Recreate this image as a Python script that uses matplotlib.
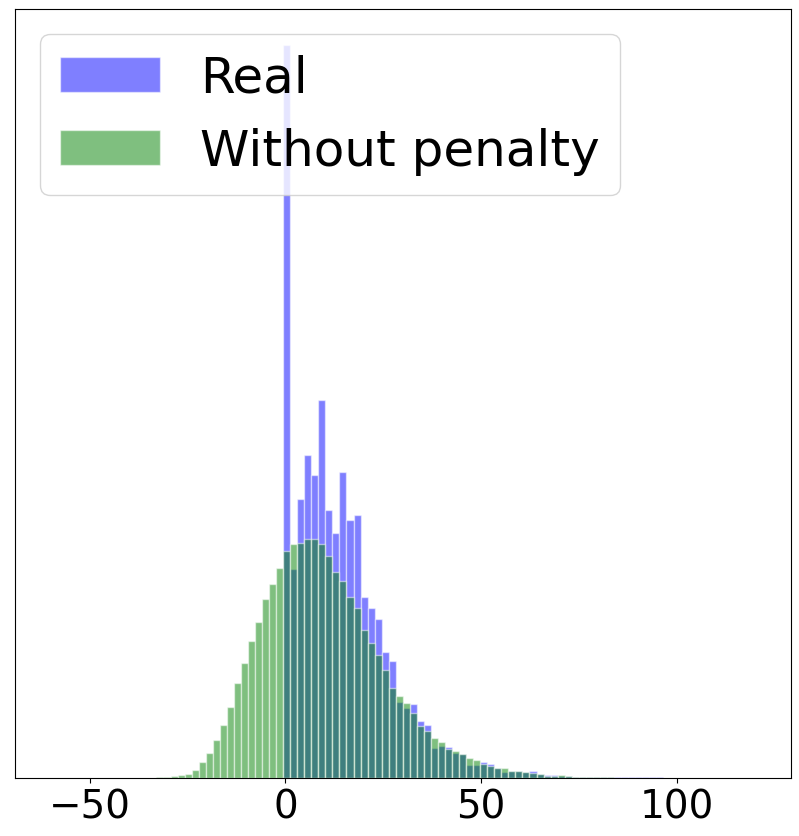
import numpy as np
import matplotlib
matplotlib.use('Agg')
import matplotlib.pyplot as plt

# common bin edges for both histograms (100 bins from -60 to 120)
bin_edges = np.linspace(-60, 120, 101)
bin_centers = (bin_edges[:-1] + bin_edges[1:]) / 2

# counts per bin (arbitrary units)
real_counts = [0] * 33 + [
    732, 209, 279, 323, 303, 378, 268, 245, 306, 258,
    263, 181, 170, 159, 126, 117, 76, 70, 74, 57,
    53, 30, 32, 31, 25, 23.5, 12.7, 12.7, 15.7, 13.7,
    10.3, 5.7, 7.3, 7.0, 6.3, 6.7, 3.7, 3.0, 2.7, 2.3,
    2.0, 1.3, 1.0, 1.0, 0.8, 1.0, 0.6, 0.6, 1.0, 0.5,
    0.5, 0.7, 0.7, 0.7, 0.4, 0.3, 0.3,
] + [0] * 10

nopen_counts = [0] * 15 + [
    0.5, 1.0, 1.7, 2.7, 4.3, 8.3, 16.3, 25.3, 38.3, 53.3,
    71.3, 95.3, 115.3, 137.3, 156.3, 179.3, 194.3, 210.3, 226.7, 233.7,
    234.7, 238.3, 238.3, 233.7, 221.7, 205.7, 196.7, 180.7, 169.7, 147.7,
    134.7, 122.7, 107.7, 89.7, 81.5, 74.7, 64.7, 51.7, 46.7, 39.7,
    35.7, 29.3, 26.7, 23.5, 19.7, 17.7, 14.3, 11.7, 10.3, 9.7,
    7.3, 7.0, 5.7, 4.7, 4.3, 2.3, 2.3, 3.3, 2.0, 1.3,
    1.0, 1.0, 0.8, 0.6, 0.5, 0.4, 0.3, 0.2, 0.2, 0.2,
    0.2,
] + [0] * 14

fig = plt.figure(figsize=(7.99, 8.37), dpi=100)
ax = fig.add_axes([0.0191, 0.0693, 0.9705, 0.9191])

ax.hist(bin_centers, bins=bin_edges, weights=real_counts,
        color='blue', alpha=0.5, edgecolor='white', label='Real')
ax.hist(bin_centers, bins=bin_edges, weights=nopen_counts,
        color='green', alpha=0.5, edgecolor='white', label='Without penalty')

ax.set_xlim(-69.1, 129.2)
ax.set_yticks([])
ax.tick_params(axis='x', labelsize=28)
ax.legend(loc='upper left', fontsize=36)

plt.savefig('out.png', dpi=100)
plt.close()
